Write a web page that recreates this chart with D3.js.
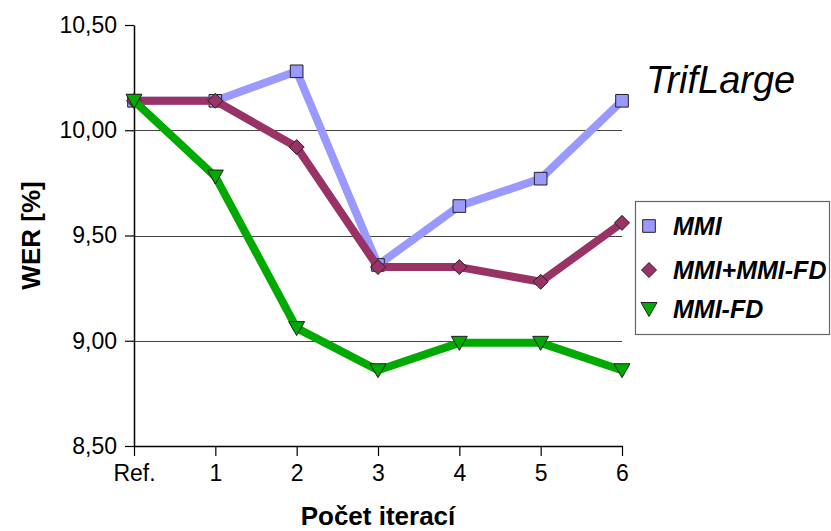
<!DOCTYPE html>
<html>
<head>
<meta charset="utf-8">
<script src="https://cdn.jsdelivr.net/npm/d3@7"></script>
<style>
  html, body { margin: 0; padding: 0; background: #fff; }
  svg { display: block; font-family: "Liberation Sans", Arial, sans-serif; }
</style>
</head>
<body>
<svg id="chart" width="831" height="531"></svg>
<script>
// WER by number of training iterations, TrifLarge models
const categories = ["Ref.", "1", "2", "3", "4", "5", "6"];
const mmi = [10.14, 10.14, 10.28, 9.36, 9.64, 9.77, 10.14];
const mmiMmiFd = [10.14, 10.14, 9.92, 9.35, 9.35, 9.28, 9.56];
const mmiFd = [10.14, 9.78, 9.06, 8.86, 8.99, 8.99, 8.86];
const seriesNames = ["MMI", "MMI+MMI-FD", "MMI-FD"];
const yTicks = [8.5, 9.0, 9.5, 10.0, 10.5];
const gridValues = [9.0, 9.5, 10.0];

const series = [
  { name: seriesNames[0], values: mmi, color: "#9999FF", marker: "square" },
  { name: seriesNames[1], values: mmiMmiFd, color: "#993366", marker: "diamond" },
  { name: seriesNames[2], values: mmiFd, color: "#00AA00", marker: "triangle" }
];

const svg = d3.select("#chart");
const plotLeft = 134, plotRight = 622, plotTop = 25, plotBottom = 446;

const x = d3.scalePoint().domain(categories).range([plotLeft, plotRight]);
const y = d3.scaleLinear().domain([8.5, 10.5]).range([plotBottom, plotTop]);

const fmt = v => d3.format(".2f")(v).replace(".", ",");

// horizontal gridlines
svg.append("g")
  .selectAll("line")
  .data(gridValues)
  .join("line")
  .attr("x1", plotLeft).attr("x2", plotRight)
  .attr("y1", d => Math.round(y(d)) + 0.5).attr("y2", d => Math.round(y(d)) + 0.5)
  .attr("stroke", "#444").attr("stroke-width", 1.2);

// y axis
const yAxis = svg.append("g")
  .attr("transform", `translate(${plotLeft},0)`)
  .call(d3.axisLeft(y).tickValues(yTicks).tickFormat(fmt).tickSize(9).tickSizeOuter(0).tickPadding(8));
yAxis.select(".domain").attr("stroke", "#000").attr("stroke-width", 1.5);
yAxis.selectAll(".tick line").attr("stroke", "#000").attr("stroke-width", 1.2);
yAxis.selectAll(".tick text").attr("font-size", 23).attr("fill", "#000")
  .attr("font-family", "'Liberation Sans', Arial, sans-serif");

// x axis
const xAxis = svg.append("g")
  .attr("transform", `translate(0,${plotBottom})`)
  .call(d3.axisBottom(x).tickSize(10).tickSizeOuter(0).tickPadding(9));
xAxis.select(".domain").attr("stroke", "#000").attr("stroke-width", 1.5);
xAxis.selectAll(".tick line").attr("stroke", "#000").attr("stroke-width", 1.2);
xAxis.selectAll(".tick text").attr("font-size", 23).attr("fill", "#000")
  .attr("font-family", "'Liberation Sans', Arial, sans-serif");

// axis titles
svg.append("text")
  .attr("x", (plotLeft + plotRight) / 2).attr("y", 525)
  .attr("text-anchor", "middle")
  .attr("font-size", 26).attr("font-weight", "bold")
  .text("Počet iterací");

svg.append("text")
  .attr("transform", `translate(40,${(plotTop + plotBottom) / 2}) rotate(-90)`)
  .attr("text-anchor", "middle")
  .attr("font-size", 26).attr("font-weight", "bold")
  .text("WER [%]");

// chart title
svg.append("text")
  .attr("x", 646).attr("y", 93)
  .attr("font-size", 38).attr("font-style", "italic")
  .text("TrifLarge");

// marker shapes
const markerPath = {
  square: d3.symbol().type(d3.symbolSquare).size(160)(),
  diamond: "M0,-7.5L7.5,0L0,7.5L-7.5,0Z",
  triangle: "M-8,-6.5L8,-6.5L0,7.5Z"
};

const line = d3.line().x((d, i) => x(categories[i])).y(d => y(d));

series.forEach(s => {
  const g = svg.append("g");
  g.append("path")
    .datum(s.values)
    .attr("d", line)
    .attr("fill", "none")
    .attr("stroke", s.color)
    .attr("stroke-width", 8)
    .attr("stroke-linejoin", "round");
  g.selectAll("path.marker")
    .data(s.values)
    .join("path")
    .attr("class", "marker")
    .attr("d", markerPath[s.marker])
    .attr("transform", (d, i) => `translate(${x(categories[i])},${y(d)})`)
    .attr("fill", s.color)
    .attr("stroke", "#222")
    .attr("stroke-width", 1);
});

// legend
const legend = svg.append("g");
legend.append("rect")
  .attr("x", 635.5).attr("y", 201.5)
  .attr("width", 194).attr("height", 133)
  .attr("fill", "#fff").attr("stroke", "#666").attr("stroke-width", 1.2);

const rowY = [226, 270, 309];
series.forEach((s, i) => {
  legend.append("path")
    .attr("d", markerPath[s.marker])
    .attr("transform", `translate(649,${rowY[i]})`)
    .attr("fill", s.color)
    .attr("stroke", "#222")
    .attr("stroke-width", 1);
  legend.append("text")
    .attr("x", 673).attr("y", rowY[i] + 9)
    .attr("font-size", 25).attr("font-weight", "bold").attr("font-style", "italic")
    .text(s.name);
});
</script>
</body>
</html>
